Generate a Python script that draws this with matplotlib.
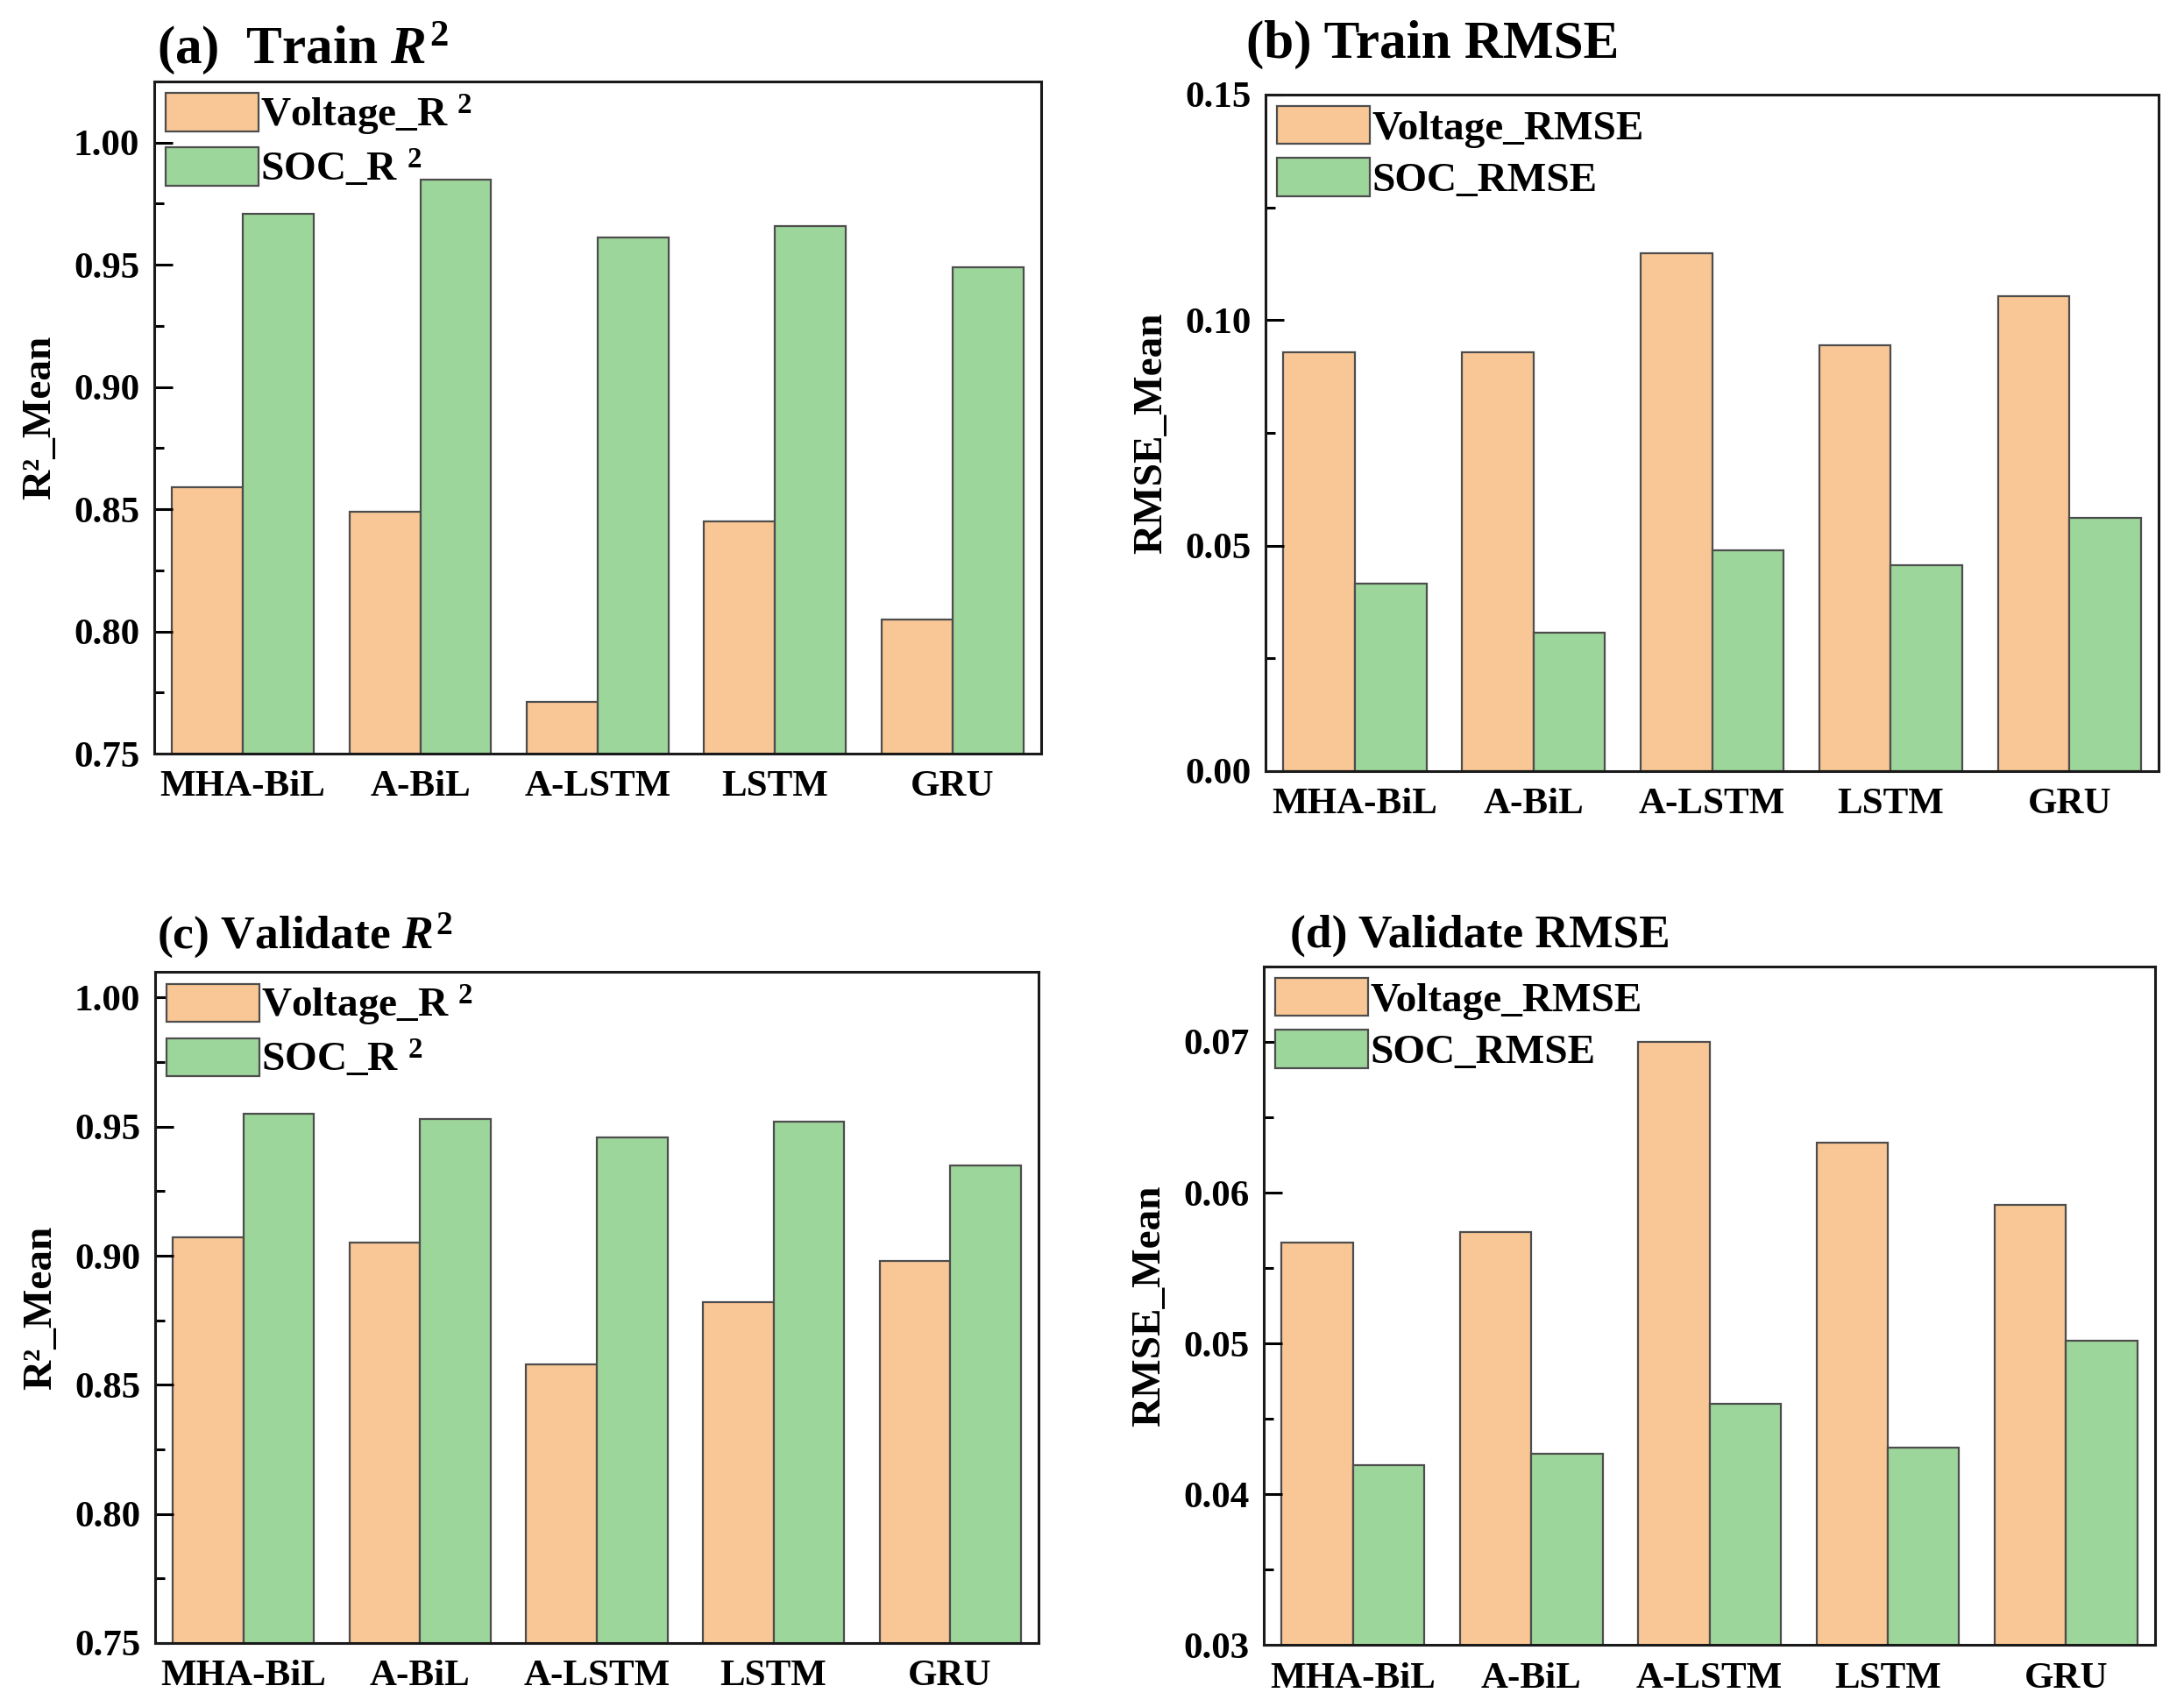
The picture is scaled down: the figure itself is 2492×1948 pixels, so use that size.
import matplotlib
matplotlib.use("Agg")
import matplotlib.pyplot as plt
from matplotlib.ticker import MultipleLocator
import numpy as np

# data
models = ["MHA-BiL", "A-BiL", "A-LSTM", "LSTM", "GRU"]

train_volt_r2 = [0.859, 0.849, 0.771, 0.845, 0.805]
train_soc_r2 = [0.971, 0.985, 0.961, 0.966, 0.949]

train_volt_rmse = [0.0929, 0.0929, 0.1148, 0.0945, 0.1053]
train_soc_rmse = [0.0416, 0.0307, 0.0490, 0.0457, 0.0561]

val_volt_r2 = [0.907, 0.905, 0.858, 0.882, 0.898]
val_soc_r2 = [0.955, 0.953, 0.946, 0.952, 0.935]

val_volt_rmse = [0.0567, 0.0574, 0.0700, 0.0633, 0.0592]
val_soc_rmse = [0.0419, 0.0427, 0.0460, 0.0431, 0.0502]

ORANGE = "#F9C795"
GREEN = "#9DD69B"
EDGE = "#4d4d4d"

plt.rcParams["font.family"] = ["Liberation Serif", "DejaVu Serif"]
plt.rcParams["font.weight"] = "bold"
plt.rcParams["mathtext.fontset"] = "custom"
plt.rcParams["mathtext.rm"] = "Liberation Serif:bold"
plt.rcParams["mathtext.it"] = "Liberation Serif:italic:bold"
plt.rcParams["mathtext.bf"] = "Liberation Serif:bold"

TICK_FS = 31
LABEL_FS = 34
LEG_FS = 34


def draw_panel(ax, volt, soc, labels, ylim, major, minor, ylabel,
               title, title_x, title_pad, title_fs):
    x = np.arange(len(models))
    w = 0.4
    ax.bar(x - w / 2, volt, w, color=ORANGE, edgecolor=EDGE, linewidth=1.6,
           label=labels[0])
    ax.bar(x + w / 2, soc, w, color=GREEN, edgecolor=EDGE, linewidth=1.6,
           label=labels[1])
    ax.set_xlim(-0.5, len(models) - 0.5)
    ax.set_ylim(*ylim)
    ax.set_xticks(x)
    ax.set_xticklabels(models, fontsize=TICK_FS, fontweight="bold")
    ax.yaxis.set_major_locator(MultipleLocator(major))
    ax.yaxis.set_minor_locator(MultipleLocator(minor))
    ax.tick_params(axis="x", length=0, pad=14)
    ax.tick_params(axis="y", which="major", direction="in", length=15, width=2.2,
                   labelsize=TICK_FS, pad=12)
    ax.tick_params(axis="y", which="minor", direction="in", length=8, width=2.2)
    for lab in ax.get_yticklabels():
        lab.set_fontweight("bold")
    for sp in ax.spines.values():
        sp.set_linewidth(2.2)
        sp.set_color("#1a1a1a")
    ax.set_ylabel(ylabel, fontsize=LABEL_FS, fontweight="bold", labelpad=12)
    ax.set_title(title, fontsize=title_fs, fontweight="bold", loc="left",
                 x=title_x, pad=title_pad)
    ax.legend(loc="upper left", frameon=False,
              handlelength=2.25, handleheight=1.04, handletextpad=0.05,
              labelspacing=0.25, borderpad=0.15, borderaxespad=0.12,
              prop={"weight": "bold", "size": LEG_FS})


fig = plt.figure(figsize=(24.92, 19.48), dpi=100)

ax_a = fig.add_axes([0.0706, 0.5585, 0.4061, 0.3938])
ax_b = fig.add_axes([0.5795, 0.5483, 0.4089, 0.3963])
ax_c = fig.add_axes([0.0710, 0.0375, 0.4045, 0.3932])
ax_d = fig.add_axes([0.5787, 0.0364, 0.4081, 0.3974])

draw_panel(ax_a, train_volt_r2, train_soc_r2,
           ["Voltage_R $^{2}$", "SOC_R $^{2}$"],
           (0.75, 1.025), 0.05, 0.025, "R²_Mean",
           "(a)  Train $R^2$", 0.003, 15, 44)
draw_panel(ax_b, train_volt_rmse, train_soc_rmse,
           ["Voltage_RMSE", "SOC_RMSE"],
           (0.0, 0.15), 0.05, 0.025, "RMSE_Mean",
           "(b) Train RMSE", -0.022, 30, 44)
draw_panel(ax_c, val_volt_r2, val_soc_r2,
           ["Voltage_R $^{2}$", "SOC_R $^{2}$"],
           (0.75, 1.01), 0.05, 0.025, "R²_Mean",
           "(c) Validate $R^2$", 0.002, 19, 38.5)
draw_panel(ax_d, val_volt_rmse, val_soc_rmse,
           ["Voltage_RMSE", "SOC_RMSE"],
           (0.03, 0.075), 0.01, 0.005, "RMSE_Mean",
           "(d) Validate RMSE", 0.029, 16, 38.5)

fig.savefig("out.png", dpi=100)
